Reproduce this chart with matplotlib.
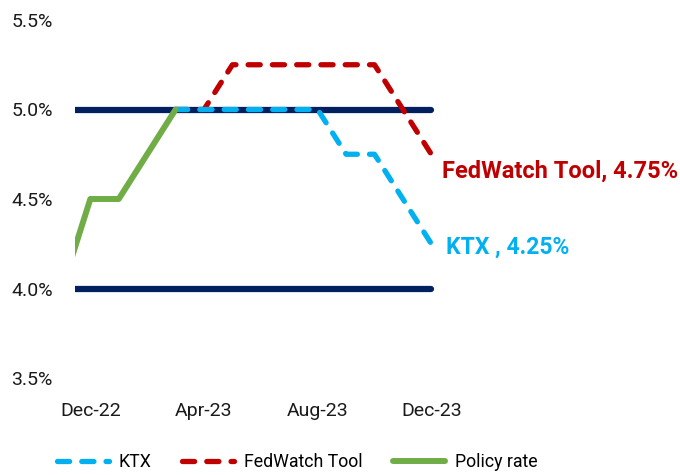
import numpy as np
import matplotlib
matplotlib.use("Agg")
import matplotlib.pyplot as plt

plt.rcParams['font.family'] = ['Roboto', 'DejaVu Sans']

months = ['Nov-22', 'Dec-22', 'Jan-23', 'Feb-23', 'Mar-23', 'Apr-23', 'May-23',
          'Jun-23', 'Jul-23', 'Aug-23', 'Sep-23', 'Oct-23', 'Nov-23', 'Dec-23']
policy_rate = [4.0, 4.5, 4.5, 4.75, 5.0]                       # Nov-22 .. Mar-23
ktx = [5.0, 5.0, 5.0, 5.0, 5.0, 5.0, 4.75, 4.75, 4.5, 4.25]    # Mar-23 .. Dec-23
fedwatch = [5.0, 5.0, 5.25, 5.25, 5.25, 5.25, 5.25, 5.25, 5.0, 4.75]  # Mar-23 .. Dec-23
band_upper = [5.0] * len(months)
band_lower = [4.0] * len(months)
tick_labels = ['Dec-22', 'Apr-23', 'Aug-23', 'Dec-23']
yticks = [3.5, 4.0, 4.5, 5.0, 5.5]

NAVY = '#002060'
BLUE = '#00B0F0'
RED = '#C00000'
GREEN = '#70AD47'

x_all = np.arange(len(months)) - 1   # Dec-22 = 0
x_pol = x_all[:len(policy_rate)]
x_fc = x_all[4:]

fig = plt.figure(figsize=(6.8, 4.75), dpi=100)
ax = fig.add_axes([75/680, 1-378/475, (437-75)/680, (378-20)/475])

ax.plot(x_all, band_upper, color=NAVY, lw=4.5, solid_capstyle='round', zorder=1)
ax.plot(x_all, band_lower, color=NAVY, lw=4.5, solid_capstyle='round', zorder=1)

l_ktx, = ax.plot(x_fc, ktx, color=BLUE, lw=3.8, dashes=(2.3, 2.3),
                 dash_capstyle='round', zorder=3, label='KTX')
l_fw, = ax.plot(x_fc, fedwatch, color=RED, lw=3.8, dashes=(2.3, 2.3),
                dash_capstyle='round', zorder=2, label='FedWatch Tool')
l_pol, = ax.plot(x_pol, policy_rate, color=GREEN, lw=4.3, solid_capstyle='round',
                 solid_joinstyle='round', zorder=4, label='Policy rate')

ax.set_xlim(-0.54, 12.2)
ax.set_ylim(3.5, 5.5)
ax.set_xticks([0, 4, 8, 12])
ax.set_xticklabels(tick_labels)
ax.set_yticks(yticks)
ax.set_yticklabels([f'{v:.1f}%' for v in yticks])
ax.tick_params(axis='both', length=0, labelsize=14, colors='#1a1a1a')
ax.tick_params(axis='y', pad=16)
ax.tick_params(axis='x', pad=17)
for s in ax.spines.values():
    s.set_visible(False)

ax.annotate(f'FedWatch Tool, {fedwatch[-1]:.2f}%', xy=(x_fc[-1], fedwatch[-1]),
            xytext=(11, -17), textcoords='offset pixels', color=RED,
            fontsize=17, fontweight='bold', va='center', ha='left',
            annotation_clip=False)
ax.annotate(f'KTX , {ktx[-1]:.2f}%', xy=(x_fc[-1], ktx[-1]),
            xytext=(15, -4), textcoords='offset pixels', color=BLUE,
            fontsize=16.5, fontweight='bold', va='center', ha='left',
            annotation_clip=False)

leg = fig.legend(handles=[l_ktx, l_fw, l_pol], loc='center left',
                 bbox_to_anchor=(57/680, 1-462/475), ncol=3, frameon=False,
                 fontsize=12.8, handlelength=2.9, handletextpad=0.55,
                 columnspacing=1.75, borderaxespad=0, borderpad=0)

fig.savefig('out.png', dpi=100)
